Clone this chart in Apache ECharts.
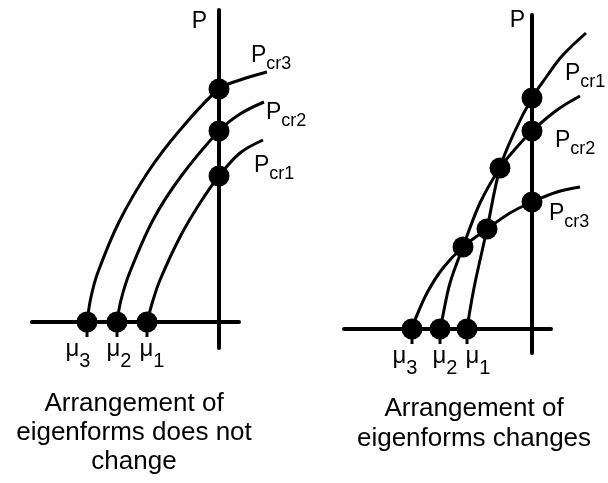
<!DOCTYPE html>
<html>
<head>
<meta charset="utf-8">
<script src="https://cdn.jsdelivr.net/npm/echarts@6/dist/echarts.min.js"></script>
<style>
  html, body { margin: 0; padding: 0; background: #fff; }
  #chart { width: 608px; height: 483px; }
</style>
</head>
<body>
<div id="chart"></div>
<script>
// units: 1 = 10 px of the original sketch, origin where the two axes cross

// left sketch: arrangement of eigenforms does not change
const leftMu = [-13.2, -10.2, -7.2];          // mu3, mu2, mu1
const leftPcr = [23.3, 19.1, 14.6];           // Pcr3, Pcr2, Pcr1
const leftCurve3 = [[-13.2, 0], [-12.8, 2.5], [-12.1, 5.0], [-10.0, 10.0], [-7.1, 15.0], [-3.9, 19.2], [0, 23.3], [2.1, 24.2], [4.8, 25.0]];
const leftCurve2 = [[-10.2, 0], [-9.8, 2.2], [-8.95, 4.9], [-6.6, 10.2], [-3.85, 14.5], [0, 19.1], [2.1, 20.8], [4.5, 22.0]];
const leftCurve1 = [[-7.2, 0], [-6.65, 2.0], [-5.9, 4.2], [-3.9, 8.5], [-1.9, 11.9], [0, 14.6], [2.1, 16.9], [4.4, 18.2]];

// right sketch: arrangement of eigenforms changes
const rightMu = [-12.0, -9.2, -6.5];          // mu3, mu2, mu1
const rightPcr = [23.1, 19.8, 12.7];          // Pcr1, Pcr2, Pcr3
const rightCross = [[-3.2, 16.1], [-4.5, 10.0], [-6.9, 8.2]];
const rightCurve1 = [[-6.5, 0], [-6.2, 1.9], [-5.7, 4.6], [-4.5, 10.0], [-3.2, 16.1], [-1.8, 19.6], [0, 23.1], [1.5, 25.3], [3.0, 27.3], [5.4, 29.6]];
const rightCurve2 = [[-9.2, 0], [-9.0, 0.9], [-8.2, 4.6], [-6.9, 8.2], [-5.2, 12.6], [-3.2, 16.1], [-1.5, 18.2], [0, 19.8], [2.5, 21.9], [4.8, 23.3]];
const rightCurve3 = [[-12.0, 0], [-11.7, 0.9], [-10.5, 3.6], [-8.9, 6.1], [-6.9, 8.2], [-4.5, 10.0], [-2.2, 11.6], [0, 12.7], [2.5, 13.7], [4.8, 14.2]];

const muSubs = ['3', '2', '1'];
const leftPcrSubs = ['3', '2', '1'];
const rightPcrSubs = ['1', '2', '3'];

const FONT = '"Liberation Sans", Arial, sans-serif';
const black = '#000';

// label nudges (px), the sketch does not center them under the ticks
const leftMuShift = [-9, 2, 5];
const rightMuShift = [-7, 5, 11];

// grids 0/1 carry the drawn axes, grids 2/3 are the same scales made wider
// so the curve ends can run past the end of the horizontal axis
function axisX(gi, min, max, show) {
    return {
        type: 'value', gridIndex: gi, min: min, max: max, show: show,
        axisLine: {onZero: true, lineStyle: {color: black, width: 4}},
        axisTick: {show: false}, axisLabel: {show: false}, splitLine: {show: false}
    };
}

function axisP(gi, min, max, show, nameGap, padRight) {
    return {
        type: 'value', gridIndex: gi, min: min, max: max, show: show,
        name: show ? 'P' : '', nameLocation: 'end', nameGap: nameGap,
        nameTextStyle: {color: black, fontSize: 23, fontFamily: FONT, align: 'right', verticalAlign: 'top', padding: [0, padRight, 0, 0]},
        axisLine: {onZero: true, lineStyle: {color: black, width: 4}},
        axisTick: {show: false}, axisLabel: {show: false}, splitLine: {show: false}
    };
}

function curve(gi, data) {
    return {
        type: 'line', xAxisIndex: gi, yAxisIndex: gi, data: data,
        smooth: 0.35, showSymbol: false, symbol: 'none', clip: false, silent: true,
        lineStyle: {color: black, width: 3}, z: 3
    };
}

function dots(gi, data) {
    return {
        type: 'scatter', xAxisIndex: gi, yAxisIndex: gi, data: data,
        symbolSize: 21, itemStyle: {color: black, opacity: 1}, clip: false, silent: true, z: 5
    };
}

// little tick under each mu dot, with its label
function muTicks(gi, values, shifts, distance) {
    return {
        type: 'scatter', xAxisIndex: gi, yAxisIndex: gi, silent: true, z: 4,
        symbol: 'rect', symbolSize: [3, 15], symbolOffset: [0, 7.5],
        itemStyle: {color: black, opacity: 1},
        data: values.map(function (x, i) {
            return {value: [x, 0], label: {offset: [shifts[i], 0]}};
        }),
        label: {
            show: true, position: 'bottom', distance: distance,
            formatter: function (p) { return '{m|μ}{s|' + muSubs[p.dataIndex] + '}'; },
            rich: {
                m: {fontSize: 24, lineHeight: 26, verticalAlign: 'top', color: black, fontFamily: FONT},
                s: {fontSize: 20, lineHeight: 20, padding: [14, 0, 0, 0], verticalAlign: 'top', color: black, fontFamily: FONT}
            }
        }
    };
}

function pcrText(sub, x, y) {
    return {
        type: 'text', x: x, y: y, silent: true,
        style: {
            text: '{p|P}{s|cr' + sub + '}', fill: black, align: 'left', verticalAlign: 'top',
            rich: {
                p: {fontSize: 23, lineHeight: 24, verticalAlign: 'top', fontFamily: FONT, fill: black},
                s: {fontSize: 18, lineHeight: 18, padding: [11, 0, 0, 0], verticalAlign: 'top', fontFamily: FONT, fill: black}
            }
        }
    };
}

function caption(text, x, y, lh) {
    return {
        type: 'text', x: x, y: y, silent: true,
        style: {text: text, fill: black, fontSize: 26, fontFamily: FONT, lineHeight: lh, align: 'center', verticalAlign: 'top'}
    };
}

const chart = echarts.init(document.getElementById('chart'));
chart.setOption({
    backgroundColor: '#fff',
    animation: false,
    grid: [
        {left: 32, top: 10, width: 207, height: 338, outerBoundsMode: 'none'},
        {left: 344, top: 15, width: 207, height: 338, outerBoundsMode: 'none'},
        {left: 32, top: 10, width: 267, height: 338, outerBoundsMode: 'none'},
        {left: 344, top: 15, width: 267, height: 338, outerBoundsMode: 'none'}
    ],
    xAxis: [
        axisX(0, -18.7, 2.0, true),
        axisX(1, -18.8, 1.9, true),
        axisX(2, -18.7, 8.0, false),
        axisX(3, -18.8, 7.9, false)
    ],
    yAxis: [
        axisP(0, -2.6, 31.2, true, 0, 12),
        axisP(1, -2.4, 31.4, true, 6, 7),
        axisP(2, -2.6, 31.2, false, 0, 0),
        axisP(3, -2.4, 31.4, false, 0, 0)
    ],
    series: [
        curve(2, leftCurve3), curve(2, leftCurve2), curve(2, leftCurve1),
        muTicks(2, leftMu, leftMuShift, 0),
        dots(2, leftMu.map(function (x) { return [x, 0]; }).concat(leftPcr.map(function (y) { return [0, y]; }))),
        curve(3, rightCurve1), curve(3, rightCurve2), curve(3, rightCurve3),
        muTicks(3, rightMu, rightMuShift, 0),
        dots(3, rightMu.map(function (x) { return [x, 0]; }).concat(rightPcr.map(function (y) { return [0, y]; }), rightCross))
    ],
    graphic: [
        pcrText(leftPcrSubs[0], 251, 44),
        pcrText(leftPcrSubs[1], 266, 101),
        pcrText(leftPcrSubs[2], 254, 154),
        pcrText(rightPcrSubs[0], 565, 62),
        pcrText(rightPcrSubs[1], 555, 129),
        pcrText(rightPcrSubs[2], 549, 202),
        caption('Arrangement of\neigenforms does not\nchange', 134, 389, 29),
        caption('Arrangement of\neigenforms changes', 474, 394, 30)
    ]
});
</script>
</body>
</html>
